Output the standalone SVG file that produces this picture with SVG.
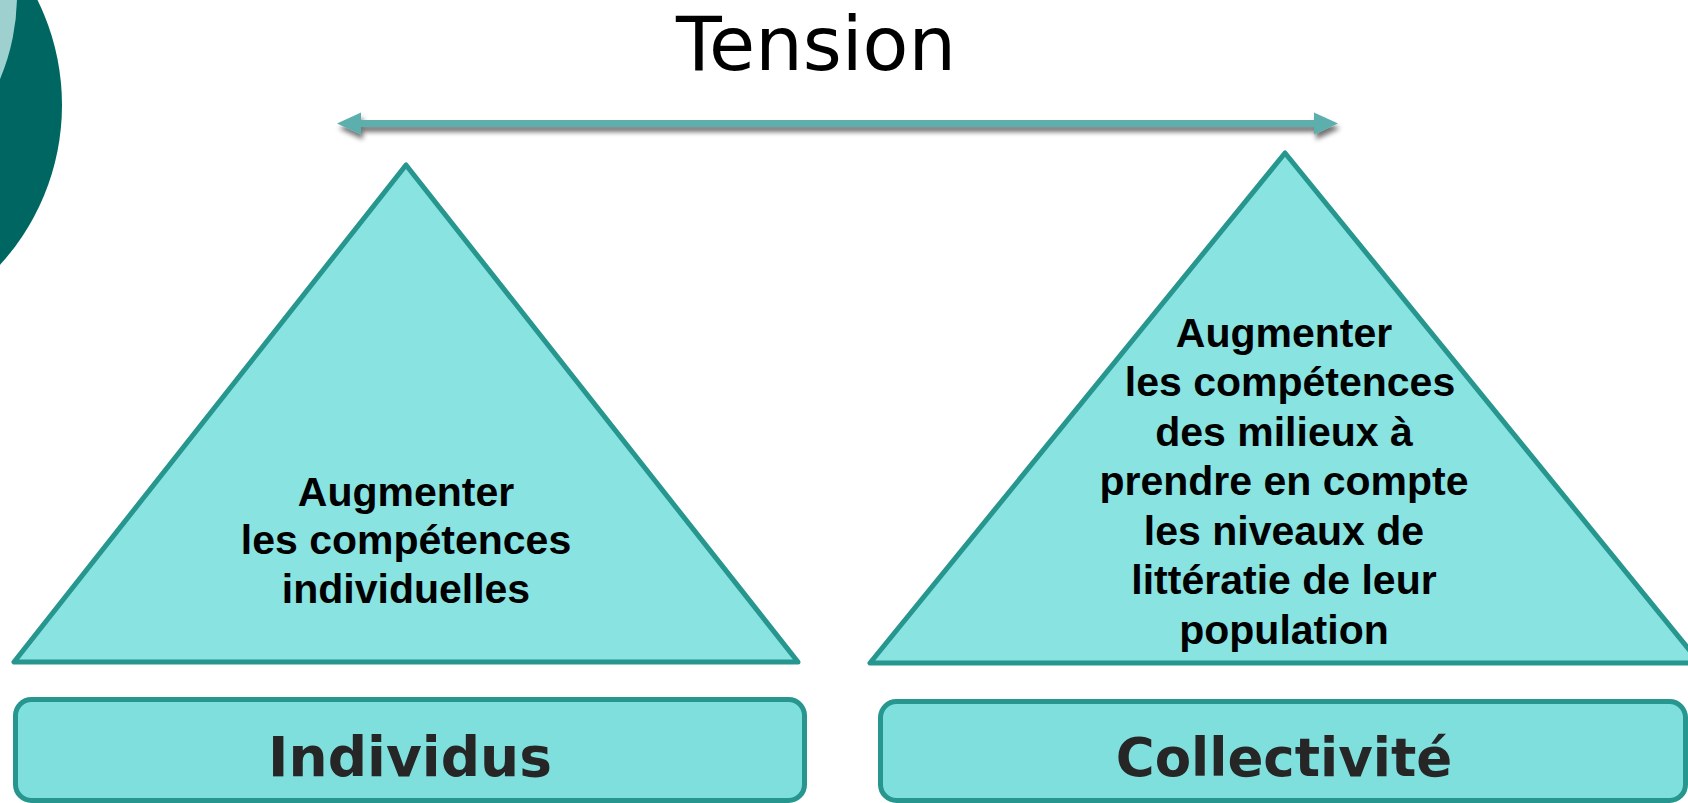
<svg xmlns="http://www.w3.org/2000/svg" width="1688" height="803" viewBox="0 0 1688 803">
  <defs>
    <filter id="shadow" x="-5%" y="-100%" width="110%" height="400%">
      <feDropShadow dx="2" dy="5" stdDeviation="2.5" flood-color="#000" flood-opacity="0.55"/>
    </filter>
    <style>
      .tri { fill: #88E3E1; stroke: #26968F; stroke-width: 5; stroke-linejoin: round; }
      .box { fill: #7FDFDC; stroke: #26968F; stroke-width: 5; }
      .tt { font-family: "Liberation Sans", Arial, sans-serif; font-weight: bold; font-size: 41px; fill: #000; text-anchor: middle; }
      .lbl { font-family: "DejaVu Sans", Verdana, sans-serif; font-weight: bold; font-size: 53px; fill: #262626; text-anchor: middle; }
      .title { font-family: "DejaVu Sans", Verdana, sans-serif; font-size: 75px; fill: #000; text-anchor: middle; }
    </style>
  </defs>
  <rect width="1688" height="803" fill="#fff"/>

  <g id="decor">
    <circle cx="-175" cy="105" r="237" fill="#006661"/>
    <circle cx="-200" cy="-5" r="217" fill="#9FD0D0"/>
  </g>

  <g id="title">
    <text class="title" x="816" y="70">Tension</text>
  </g>

  <g id="connectors">
    <g filter="url(#shadow)" fill="#5BAFAD">
      <rect x="358" y="120" width="960" height="7"/>
      <polygon points="337,123.5 361,112.5 361,134.5"/>
      <polygon points="1338,123.5 1314,112.5 1314,134.5"/>
    </g>
  </g>

  <g id="individus-triangle">
    <polygon class="tri" points="406,165 14,662 798,662"/>
    <text class="tt" x="406" y="506">Augmenter</text>
    <text class="tt" x="406" y="554">les compétences</text>
    <text class="tt" x="406" y="603">individuelles</text>
  </g>

  <g id="collectivite-triangle">
    <polygon class="tri" points="1285,153 870,663 1700,663"/>
    <text class="tt" x="1284" y="347">Augmenter</text>
    <text class="tt" x="1290" y="396">les compétences</text>
    <text class="tt" x="1284" y="446">des milieux à</text>
    <text class="tt" x="1284" y="495">prendre en compte</text>
    <text class="tt" x="1284" y="545">les niveaux de</text>
    <text class="tt" x="1284" y="594">littératie de leur</text>
    <text class="tt" x="1284" y="644">population</text>
  </g>

  <g id="individus">
    <rect class="box" x="15.5" y="699.5" width="789" height="101" rx="16"/>
    <text class="lbl" x="410" y="776" style="font-size:55px">Individus</text>
  </g>

  <g id="collectivite">
    <rect class="box" x="880.5" y="701.5" width="805" height="99" rx="16"/>
    <text class="lbl" x="1284" y="776">Collectivité</text>
  </g>
</svg>
